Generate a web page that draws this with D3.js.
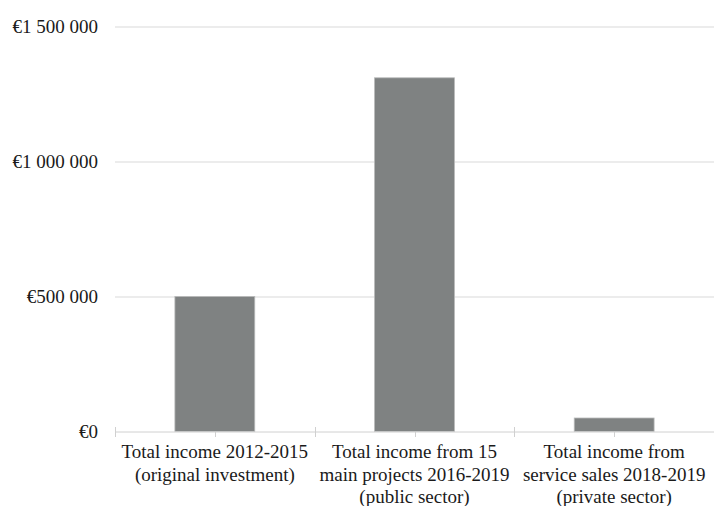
<!DOCTYPE html>
<html>
<head>
<meta charset="utf-8">
<script src="https://d3js.org/d3.v7.min.js"></script>
<style>
  body { margin: 0; background: #fff; }
</style>
</head>
<body>
<div id="chart"></div>
<script>
// Chart data.
var categories = [
    ['Total income 2012-2015', '(original investment)'],
    ['Total income from 15', 'main projects 2016-2019', '(public sector)'],
    ['Total income from', 'service sales 2018-2019', '(private sector)']
];
var incomeValues = [500000, 1310000, 50000];
var yTickValues = [0, 500000, 1000000, 1500000];
var yTickLabels = ['€0', '€500 000', '€1 000 000', '€1 500 000'];

var fontFace = "'Liberation Serif'";

// Sizes of the drawing.
var margin = {left: 115, right: 0, top: 26.5, bottom: 74.5};
var width = 714 - margin.left - margin.right,
    height = 506 - margin.top - margin.bottom;

var svg = d3.select('#chart')
    .append('svg')
        .attr('width', width + margin.left + margin.right)
        .attr('height', height + margin.top + margin.bottom)
    .append('g')
        .attr('transform', 'translate(' + margin.left + ', ' + margin.top + ')');

var keys = categories.map(function(d, i){ return 'c' + i; });

// x scale: one band per category, bars take 40% of the band.
var x = d3.scaleBand()
    .domain(keys)
    .range([0, width])
    .paddingInner(0.6)
    .paddingOuter(0.3);

var xOuter = d3.scaleBand()
    .domain(keys)
    .range([0, width]);

var y = d3.scaleLinear()
    .domain([0, 1500000])
    .range([height, 0]);

// Horizontal gridlines.
svg.append('g')
    .attr('class', 'grid')
    .selectAll('line')
    .data(yTickValues.slice(1))
    .enter().append('line')
        .attr('x1', 0)
        .attr('x2', width)
        .attr('y1', function(d){ return Math.round(y(d)) + 0.5; })
        .attr('y2', function(d){ return Math.round(y(d)) + 0.5; })
        .attr('stroke', '#d9d9d9')
        .attr('stroke-width', 1);

// y-axis labels only (no line).
var yAxisCall = d3.axisLeft(y)
    .tickValues(yTickValues)
    .tickSize(0)
    .tickPadding(17)
    .tickFormat(function(d, i){ return yTickLabels[i]; });

var yAxis = svg.append('g')
    .attr('class', 'y-axis')
    .call(yAxisCall);
yAxis.select('.domain').remove();
yAxis.selectAll('text')
    .style('font-family', fontFace)
    .style('font-size', '19px')
    .style('fill', '#1a1a1a');

// Bars.
svg.selectAll('rect.bar')
    .data(incomeValues)
    .enter().append('rect')
        .attr('class', 'bar')
        .attr('x', function(d, i){ return x(keys[i]); })
        .attr('y', function(d){ return y(d); })
        .attr('width', x.bandwidth())
        .attr('height', function(d){ return height - y(d); })
        .attr('fill', '#7f8282')
        .attr('stroke', '#b8baba')
        .attr('stroke-width', 0.8);

// x-axis line with category boundary ticks.
var xAxisG = svg.append('g')
    .attr('class', 'x-axis')
    .attr('transform', 'translate(0, ' + (Math.round(height) + 0.5) + ')');

xAxisG.append('line')
    .attr('x1', 0)
    .attr('x2', width)
    .attr('stroke', '#d0d0d0');

var boundaries = keys.map(function(k){ return xOuter(k); }).concat([width - 0.5]);
xAxisG.selectAll('line.bound')
    .data(boundaries)
    .enter().append('line')
        .attr('class', 'bound')
        .attr('x1', function(d){ return Math.round(d) + 0.5; })
        .attr('x2', function(d){ return Math.round(d) + 0.5; })
        .attr('y1', -5)
        .attr('y2', 5)
        .attr('stroke', '#d0d0d0');

xAxisG.selectAll('line.mid')
    .data(keys)
    .enter().append('line')
        .attr('class', 'mid')
        .attr('x1', function(d){ return Math.round(xOuter(d) + xOuter.bandwidth() / 2) + 0.5; })
        .attr('x2', function(d){ return Math.round(xOuter(d) + xOuter.bandwidth() / 2) + 0.5; })
        .attr('y1', 0)
        .attr('y2', 5)
        .attr('stroke', '#d0d0d0');

// Category labels, several lines each.
var labels = svg.append('g')
    .attr('class', 'x-labels')
    .selectAll('text')
    .data(categories)
    .enter().append('text')
        .attr('text-anchor', 'middle')
        .attr('x', function(d, i){ return xOuter(keys[i]) + xOuter.bandwidth() / 2; })
        .attr('y', height + 26.5)
        .style('font-family', fontFace)
        .style('font-size', '19px')
        .style('fill', '#1a1a1a');

labels.selectAll('tspan')
    .data(function(d){ return d; })
    .enter().append('tspan')
        .attr('x', function(){ return d3.select(this.parentNode).attr('x'); })
        .attr('dy', function(d, i){ return i === 0 ? 0 : 22.5; })
        .text(function(d){ return d; });
</script>
</body>
</html>
